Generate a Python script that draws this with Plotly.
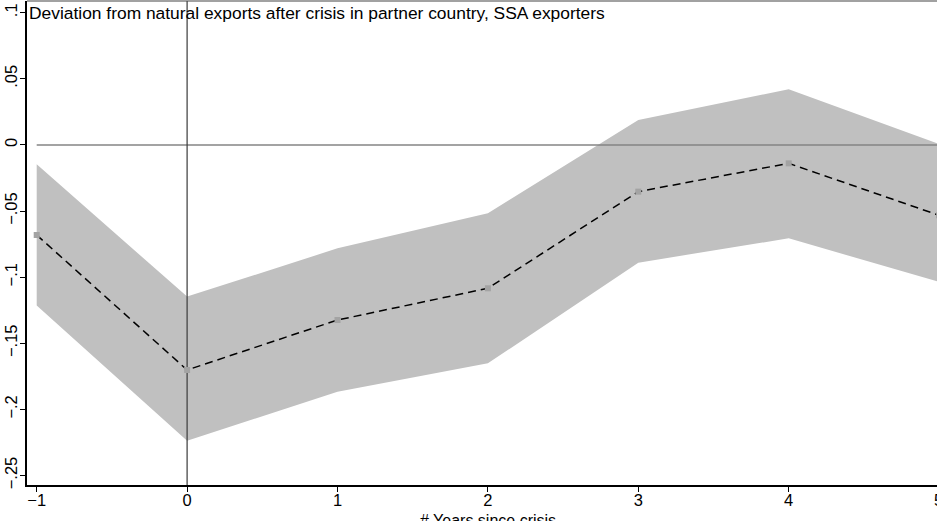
import plotly.graph_objects as go

years = [-1, 0, 1, 2, 3, 4, 5]
estimate = [-0.0681, -0.1702, -0.1324, -0.1084, -0.0353, -0.0139, -0.0532]
upper_ci = [-0.0146, -0.1147, -0.0782, -0.0517, 0.0189, 0.0421, 0.0008]
lower_ci = [-0.1215, -0.2237, -0.1866, -0.1652, -0.0890, -0.0706, -0.1036]

y_ticks = [-0.25, -0.2, -0.15, -0.1, -0.05, 0, 0.05, 0.1]
y_tick_labels = ["\u2212.25", "\u2212.2", "\u2212.15", "\u2212.1", "\u2212.05", "0", ".05", ".1"]
x_ticks = [-1, 0, 1, 2, 3, 4, 5]
x_tick_labels = ["\u22121", "0", "1", "2", "3", "4", "5"]

title_text = "Deviation from natural exports after crisis in partner country, SSA exporters"
x_title = "# Years since crisis"

FONT = "Liberation Sans, Arial, sans-serif"
x_range = [-1.0645, 4.986]
y_range = [-0.2572, 0.1089]

fig = go.Figure()

# confidence band
fig.add_trace(go.Scatter(
    x=years + years[::-1],
    y=upper_ci + lower_ci[::-1],
    fill="toself", fillcolor="#c0c0c0",
    line=dict(width=0), mode="lines", hoverinfo="skip", showlegend=False))

# zero line
fig.add_trace(go.Scatter(
    x=[years[0], years[-1]], y=[0, 0], mode="lines",
    line=dict(color="#858585", width=1.6), showlegend=False, hoverinfo="skip"))

# crisis line
fig.add_trace(go.Scatter(
    x=[0, 0], y=y_range, mode="lines",
    line=dict(color="#3a3a3a", width=1.2), showlegend=False, hoverinfo="skip"))

# estimate
fig.add_trace(go.Scatter(
    x=years, y=estimate, mode="lines+markers",
    line=dict(color="black", width=1.5, dash="8px,5px"),
    marker=dict(symbol="square", size=6, color="#a3a3a3"),
    showlegend=False))

fig.update_layout(
    width=937, height=521,
    margin=dict(l=27, r=0, t=1, b=36, autoexpand=False),
    paper_bgcolor="white", plot_bgcolor="white",
    font=dict(family=FONT, size=16, color="black"),
    xaxis=dict(
        range=x_range, tickmode="array", tickvals=x_ticks, ticktext=x_tick_labels,
        showgrid=False, zeroline=False, showline=True, linecolor="black", linewidth=1.5,
        ticks="outside", ticklen=5, tickwidth=1, tickcolor="black",
        tickfont=dict(size=16.5, family=FONT), ticklabelstandoff=-6, automargin=False,
    ),
    yaxis=dict(
        range=y_range, tickmode="array", tickvals=y_ticks, ticktext=y_tick_labels,
        showgrid=False, zeroline=False, showline=True, linecolor="black", linewidth=1.5,
        ticks="outside", ticklen=5, tickwidth=1, tickcolor="black", automargin=False,
        tickangle=-90, tickfont=dict(size=16.5, family=FONT), ticklabelstandoff=-3,
    ),
    shapes=[dict(type="line", xref="paper", yref="paper", x0=0, x1=1.01, y0=1, y1=1,
                 line=dict(color="#444444", width=1.2))],
    annotations=[
        dict(text=title_text, xref="paper", yref="paper", x=0.0, y=1.0,
             xanchor="left", yanchor="top", showarrow=False,
             font=dict(size=17.4, family=FONT, color="black")),
        dict(text="5", xref="paper", yref="paper", x=1.0016, y=-0.031,
             xanchor="center", yanchor="middle", showarrow=False,
             font=dict(size=16.5, family=FONT, color="black")),
        dict(text=x_title, xref="paper", yref="paper", x=(487.7 - 27) / 910, y=-0.052,
             xanchor="center", yanchor="top", showarrow=False,
             font=dict(size=16, family=FONT, color="black")),
    ],
)

fig.write_html("out.html", config={"displayModeBar": False},
               post_script="document.body.style.margin='0px';")
